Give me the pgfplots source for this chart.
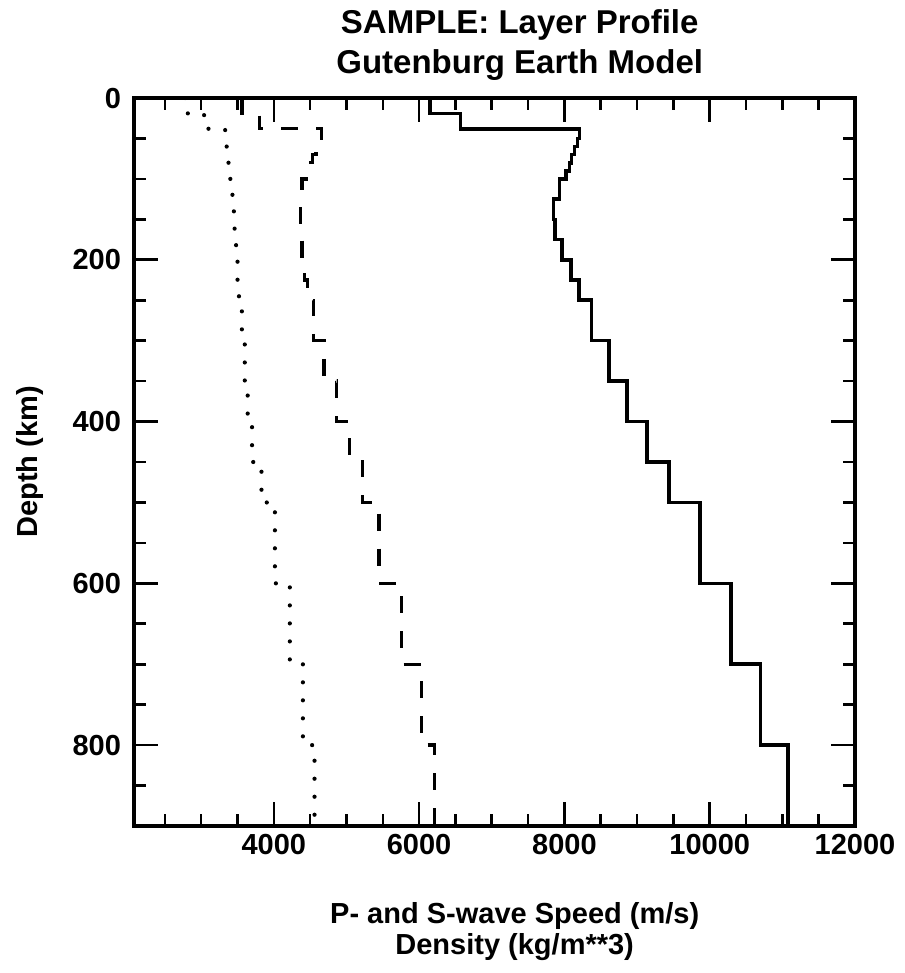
\documentclass[border=0pt]{standalone}
\usepackage{fontspec}
\setmainfont{Liberation Sans}
\usepackage{pgfplots}
\pgfplotsset{compat=1.18}
\usepackage{pgfplotstable}

% Layered earth model: each layer listed at its top and bottom depth (km)
% vp, vs in m/s, rho in kg/m^3
\pgfplotstableread{
depth vp    vs   rho
0     6150  3560 2780
19    6150  3560 2780
19    6570  3800 3040
38    6570  3800 3040
38    8210  4660 3330
50    8210  4660 3330
50    8180  4630 3350
60    8180  4630 3350
60    8140  4580 3360
70    8140  4580 3360
70    8100  4530 3370
80    8100  4530 3370
80    8070  4480 3390
90    8070  4480 3390
90    8020  4440 3400
100   8020  4440 3400
100   7930  4390 3430
125   7930  4390 3430
125   7850  4370 3450
150   7850  4370 3450
150   7870  4370 3460
175   7870  4370 3460
175   7970  4390 3480
200   7970  4390 3480
200   8090  4420 3500
225   8090  4420 3500
225   8200  4460 3520
250   8200  4460 3520
250   8370  4550 3560
300   8370  4550 3560
300   8610  4690 3600
350   8610  4690 3600
350   8860  4865 3640
400   8860  4865 3640
400   9140  5040 3700
450   9140  5040 3700
450   9440  5220 3830
500   9440  5220 3830
500   9870  5450 4015
600   9870  5450 4015
600   10290 5760 4220
700   10290 5760 4220
700   10700 6030 4400
800   10700 6030 4400
800   11080 6215 4560
900   11080 6215 4560
}\layers

\begin{document}
\begin{tikzpicture}
\path[use as bounding box] (-67pt,-73.5pt) rectangle (385pt,413pt);
\begin{axis}[
  at={(0,0)}, anchor=south west,
  scale only axis, width=360.5pt, height=364pt,
  xmin=2075, xmax=12000, ymin=0, ymax=900, y dir=reverse,
  xtick={4000,6000,8000,10000,12000},
  minor xtick={2500,3000,...,11500},
  ytick={0,200,400,600,800},
  minor ytick={50,100,...,850},
  tick pos=both, tick align=inside,
  major tick length=12pt, minor tick length=6pt,
  every tick/.style={black, line width=1.3pt},
  axis line style={line width=2pt},
  scaled x ticks=false, scaled y ticks=false,
  /pgf/number format/1000 sep={},
  /pgf/number format/assume math mode=true,
  tick label style={font=\fontsize{14.5}{17}\selectfont\bfseries},
  xticklabel style={yshift=-0.5pt},
  yticklabel style={xshift=-3pt},
  title={SAMPLE: Layer Profile\\Gutenburg Earth Model},
  title style={font=\fontsize{16.5}{20}\selectfont\bfseries, align=center,
    at={(axis description cs:0.535,1.056)}, anchor=center},
  xlabel={P- and S-wave Speed (m/s)\\Density (kg/m**3)},
  xlabel style={font=\fontsize{14.5}{15.5}\selectfont\bfseries, align=center,
    at={(axis description cs:0.528,-0.145)}, anchor=center},
  ylabel={Depth (km)},
  ylabel style={font=\fontsize{14.5}{17}\selectfont\bfseries,
    at={(axis description cs:-0.144,0.5)}, anchor=center, rotate=0},
]
% P-wave speed
\addplot[black, line width=1.8pt] table[x=vp, y=depth] {\layers};
% S-wave speed
\addplot[black, line width=1.7pt, dash pattern=on 8.5pt off 9pt] table[x=vs, y=depth] {\layers};
% Density
\addplot[black, line width=2.1pt, line cap=round, dash pattern=on 0pt off 9pt] table[x=rho, y=depth] {\layers};
\end{axis}
\end{tikzpicture}
\end{document}
